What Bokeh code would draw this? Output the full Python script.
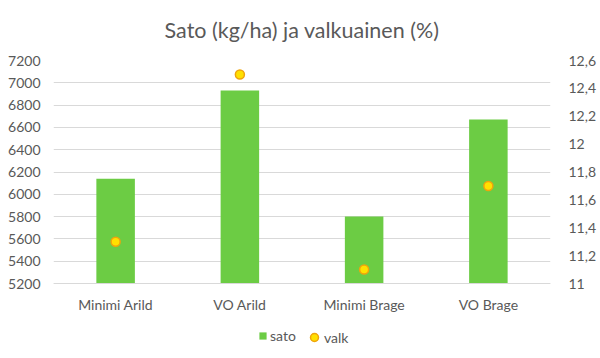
from bokeh.plotting import figure
from bokeh.models import (Range1d, LinearAxis, FixedTicker, CustomJSTickFormatter,
                          Legend, LegendItem, ColumnDataSource, FactorRange)
from bokeh.embed import file_html
from bokeh.resources import INLINE

categories = ["Minimi Arild", "VO Arild", "Minimi Brage", "VO Brage"]
sato = [6140, 6930, 5800, 6670]
valk = [11.3, 12.5, 11.1, 11.7]
left_ticks = [5200, 5400, 5600, 5800, 6000, 6200, 6400, 6600, 6800, 7000, 7200]
right_ticks = [11.0, 11.2, 11.4, 11.6, 11.8, 12.0, 12.2, 12.4, 12.6]
title_text = "Sato (kg/ha) ja valkuainen (%)"

FONT = "Lato"
TXT = "#595959"
GRID = "#d9d9d9"

# layout (pixels)
TOP = 58          # space above the plotting frame
GRID_H = 223      # pixel height between lowest and highest gridline
FRAME_H = 292     # frame extends below the axis to hold the legend
FRAME_W = 497

def extend(lo, hi):
    span = (hi - lo) * FRAME_H / GRID_H
    return Range1d(hi - span, hi)

src = ColumnDataSource(dict(cat=categories, sato=sato, valk=valk))

p = figure(frame_width=FRAME_W, frame_height=FRAME_H, output_backend="svg", toolbar_location=None,
           x_range=FactorRange(*categories, range_padding=0),
           y_range=extend(left_ticks[0], left_ticks[-1]),
           min_border_left=53, min_border_right=30, min_border_top=TOP, min_border_bottom=0)
p.outline_line_color = None
p.background_fill_color = "white"
p.border_fill_color = "white"

p.title.text = title_text
p.title.align = "center"
p.title.vertical_align = "top"
p.title.text_font = FONT
p.title.text_font_size = "21.5px"
p.title.text_font_style = "normal"
p.title.text_color = TXT
p.title.standoff = 32

p.extra_y_ranges = {"right": extend(right_ticks[0], right_ticks[-1])}

bars = p.vbar(x="cat", top="sato", bottom=left_ticks[0], width=0.31, source=src,
              fill_color="#6CCC44", line_color=None)
pts = p.scatter(x="cat", y="valk", y_range_name="right", source=src, size=9,
                fill_color="#FFE000", line_color="#EFA40C", line_width=1.5)

def style(ax, standoff):
    ax.major_tick_line_color = None
    ax.minor_tick_line_color = None
    ax.major_tick_out = 0
    ax.major_tick_in = 0
    ax.minor_tick_out = 0
    ax.major_label_text_font = FONT
    ax.major_label_text_font_size = "14px"
    ax.major_label_text_color = TXT
    ax.major_label_standoff = standoff

# left axis
ya = p.yaxis[0]
ya.ticker = FixedTicker(ticks=left_ticks)
ya.axis_line_color = None
style(ya, 13)

# right axis
ra = LinearAxis(y_range_name="right", ticker=FixedTicker(ticks=right_ticks),
                formatter=CustomJSTickFormatter(code="var s=(Math.round(tick*10)/10).toString(); return s.replace('.', ',');"))
ra.axis_line_color = None
style(ra, 18)
p.add_layout(ra, "right")

# x axis drawn at the lowest gridline
xa = p.xaxis[0]
xa.fixed_location = left_ticks[0]
xa.axis_line_color = GRID
style(xa, 12)

p.xgrid.grid_line_color = None
p.ygrid.grid_line_color = GRID
p.ygrid.grid_line_width = 1

common = dict(orientation="horizontal", border_line_color=None, background_fill_alpha=0,
              padding=0, margin=0, label_height=14,
              label_text_font=FONT, label_text_font_size="14px", label_text_color=TXT)
leg1 = Legend(items=[LegendItem(label="sato", renderers=[bars])], location=(205, 8),
              glyph_width=9, glyph_height=9, label_standoff=3, **common)
leg2 = Legend(items=[LegendItem(label="valk", renderers=[pts])], location=(251, 5),
              glyph_width=20, glyph_height=20, label_standoff=-6, **common)
p.add_layout(leg1, "center")
p.add_layout(leg2, "center")

open("out.html", "w").write(file_html(p, INLINE))
